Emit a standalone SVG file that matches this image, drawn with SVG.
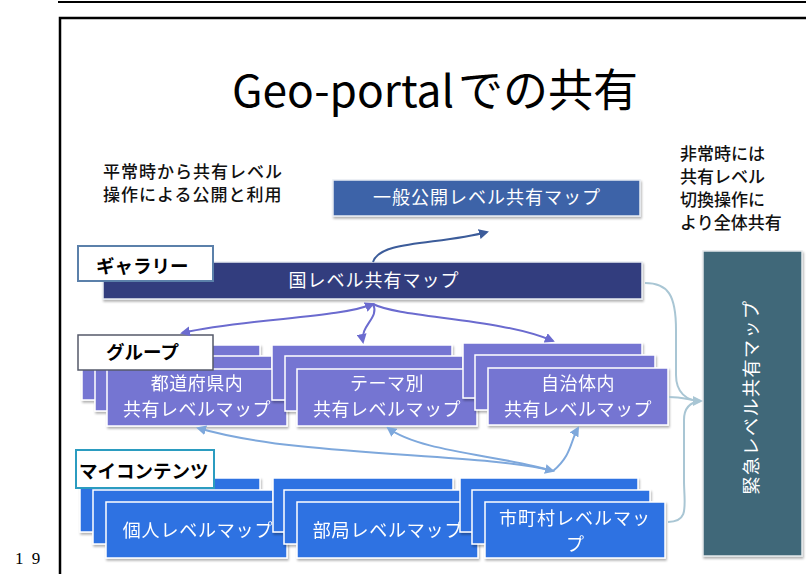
<svg xmlns="http://www.w3.org/2000/svg" width="806" height="574" viewBox="0 0 806 574">
<style>
.jp{font-family:"Noto Sans CJK JP","Noto Sans",sans-serif}
.w{fill:#fff;font-size:18px;text-anchor:middle}
.lbl{fill:#000;font-size:18.5px;font-weight:bold}
.note{fill:#111;font-size:17px;font-weight:500}
.grp{fill:#7474d2;stroke:#fff;stroke-width:1.5}
.my{fill:#2e72e2;stroke:#fff;stroke-width:1.5}
.c1{fill:none;stroke:#6b6bcf;stroke-width:2}
.c2{fill:none;stroke:#7ea8dc;stroke-width:2}
.c3{fill:none;stroke:#a9c6d4;stroke-width:2}
.c4{fill:none;stroke:#3c5c9a;stroke-width:2}
</style>
<defs>
<filter id="sh" x="-10%" y="-10%" width="130%" height="140%">
<feDropShadow dx="1" dy="2" stdDeviation="1.2" flood-color="#000" flood-opacity="0.3"/>
</filter>
<marker id="a1" viewBox="0 0 10 10" refX="8" refY="5" markerWidth="5" markerHeight="5" orient="auto-start-reverse"><path d="M0,0 L10,5 L0,10 Z" fill="#6b6bcf"/></marker>
<marker id="a2" viewBox="0 0 10 10" refX="8" refY="5" markerWidth="5" markerHeight="5" orient="auto-start-reverse"><path d="M0,0 L10,5 L0,10 Z" fill="#7ea8dc"/></marker>
<marker id="a3" viewBox="0 0 10 10" refX="8" refY="5" markerWidth="5" markerHeight="5" orient="auto-start-reverse"><path d="M0,0 L10,5 L0,10 Z" fill="#a9c6d4"/></marker>
<marker id="a4" viewBox="0 0 10 10" refX="8" refY="5" markerWidth="5" markerHeight="5" orient="auto-start-reverse"><path d="M0,0 L10,5 L0,10 Z" fill="#3c5c9a"/></marker>
</defs>
<rect width="806" height="574" fill="#fff"/>
<g id="frame">
<line x1="58" y1="2" x2="806" y2="2" stroke="#000" stroke-width="2"/>
<polyline points="60,574 60,18 806,18" fill="none" stroke="#000" stroke-width="2.5"/>
<text x="15" y="564" font-family="Liberation Serif,serif" font-size="17" letter-spacing="2" fill="#000" xml:space="preserve">1 9</text>
</g>
<g id="title" class="jp" fill="#000">
<text x="232" y="107" font-size="44" textLength="222" lengthAdjust="spacingAndGlyphs">Geo-portal</text>
<text x="458" y="107" font-size="45">での共有</text>
</g>
<g id="note-left" class="jp">
<text class="note" x="103" y="178" letter-spacing="1">平常時から共有レベル</text>
<text class="note" x="103" y="201" letter-spacing="1">操作による公開と利用</text>
</g>
<g id="note-right" class="jp">
<text class="note" x="680" y="160" font-size="17.5">非常時には</text>
<text class="note" x="680" y="183" font-size="17.5">共有レベル</text>
<text class="note" x="680" y="206" font-size="17.5">切換操作に</text>
<text class="note" x="680" y="229" font-size="17.5">より全体共有</text>
</g>
<g id="public" class="jp">
<rect x="333" y="180" width="307" height="36" fill="#3d64a8" stroke="#e8ecf2" stroke-width="1.5" filter="url(#sh)"/>
<text class="w" x="487" y="204" letter-spacing="1">一般公開レベル共有マップ</text>
</g>
<g id="gallery" class="jp">
<rect x="103" y="262" width="539" height="37" fill="#323e7e" stroke="#e8ecf2" stroke-width="1.5" filter="url(#sh)"/>
<text class="w" x="374" y="287" letter-spacing="1">国レベル共有マップ</text>
</g>
<g id="gallery-label" class="jp">
<rect x="78" y="246" width="135" height="35" fill="#fff" stroke="#5b80aa" stroke-width="2"/>
<text class="lbl" x="96" y="273" font-size="19">ギャラリー</text>
</g>
<g id="emergency" class="jp">
<rect x="703" y="251" width="99" height="305" fill="#3f6779" stroke="#e4e8ea" stroke-width="1.5" filter="url(#sh)"/>
<text class="w" x="752" y="403" transform="rotate(-90 752 397)" font-size="17.5" letter-spacing="1.5">緊急レベル共有マップ</text>
</g>
<g id="group-pref" class="jp" filter="url(#sh)">
<rect class="grp" x="82" y="345" width="178" height="55"/>
<rect class="grp" x="95" y="356" width="177" height="55"/>
<rect class="grp" x="107" y="369" width="180" height="57"/>
<text class="w" x="197" y="390" letter-spacing="0.5">都道府県内</text>
<text class="w" x="197" y="416" letter-spacing="0.5">共有レベルマップ</text>
</g>
<g id="group-theme" class="jp" filter="url(#sh)">
<rect class="grp" x="272" y="345" width="180" height="55"/>
<rect class="grp" x="285" y="356" width="178" height="55"/>
<rect class="grp" x="297" y="369" width="180" height="57"/>
<text class="w" x="387" y="390" letter-spacing="0.5">テーマ別</text>
<text class="w" x="387" y="416" letter-spacing="0.5">共有レベルマップ</text>
</g>
<g id="group-muni" class="jp" filter="url(#sh)">
<rect class="grp" x="463" y="343" width="179" height="55"/>
<rect class="grp" x="475" y="355" width="180" height="55"/>
<rect class="grp" x="488" y="368" width="180" height="57"/>
<text class="w" x="578" y="390" letter-spacing="0.5">自治体内</text>
<text class="w" x="578" y="416" letter-spacing="0.5">共有レベルマップ</text>
</g>
<g id="group-label" class="jp">
<rect x="78" y="335" width="135" height="35" fill="#fff" stroke="#555a6a" stroke-width="1.5"/>
<text class="lbl" x="106" y="359">グループ</text>
</g>
<g id="my-personal" class="jp" filter="url(#sh)">
<rect class="my" x="80" y="478" width="180" height="54"/>
<rect class="my" x="93" y="490" width="180" height="54"/>
<rect class="my" x="106" y="502" width="181" height="56"/>
<text class="w" x="198" y="537" font-size="19" letter-spacing="0.8">個人レベルマップ</text>
</g>
<g id="my-dept" class="jp" filter="url(#sh)">
<rect class="my" x="273" y="478" width="180" height="54"/>
<rect class="my" x="284" y="490" width="180" height="54"/>
<rect class="my" x="297" y="502" width="181" height="56"/>
<text class="w" x="388" y="537" font-size="19" letter-spacing="0.8">部局レベルマップ</text>
</g>
<g id="my-city" class="jp" filter="url(#sh)">
<rect class="my" x="460" y="478" width="178" height="54"/>
<rect class="my" x="472" y="490" width="178" height="54"/>
<rect class="my" x="485" y="502" width="180" height="56"/>
<text class="w" x="575" y="525" font-size="17.5" letter-spacing="1">市町村レベルマッ</text>
<text class="w" x="575" y="551" font-size="17.5">プ</text>
</g>
<g id="my-label" class="jp">
<rect x="76" y="450" width="138" height="38" fill="#fff" stroke="#2b9cc0" stroke-width="2"/>
<text class="lbl" x="79" y="478" font-size="19">マイコンテンツ</text>
</g>
<g id="connectors">
<path class="c4" d="M373,262 C380,240 440,245 487,232" marker-end="url(#a4)"/>
<path class="c1" d="M373,304 C340,318 250,318 182,333" marker-start="url(#a1)" marker-end="url(#a1)"/>
<path class="c1" d="M373,304 C380,318 360,325 363,342" marker-end="url(#a1)"/>
<path class="c1" d="M373,304 C400,318 500,318 553,341" marker-end="url(#a1)"/>
<path class="c2" d="M553,471 C480,452 300,458 198,428" marker-start="url(#a2)" marker-end="url(#a2)"/>
<path class="c2" d="M553,471 C500,455 420,452 388,428" marker-end="url(#a2)"/>
<path class="c2" d="M553,471 C572,455 570,442 578,428" marker-end="url(#a2)"/>
<path class="c3" d="M645,283 C668,283 676,295 676,330 L676,375 C676,392 686,401 701,401" marker-end="url(#a3)"/>
<path class="c3" d="M669,397 C682,397 690,400 701,401"/>
<path class="c3" d="M668,522 C690,522 684,505 684,480 L684,420 C684,408 690,402 701,401"/>
</g>
</svg>
